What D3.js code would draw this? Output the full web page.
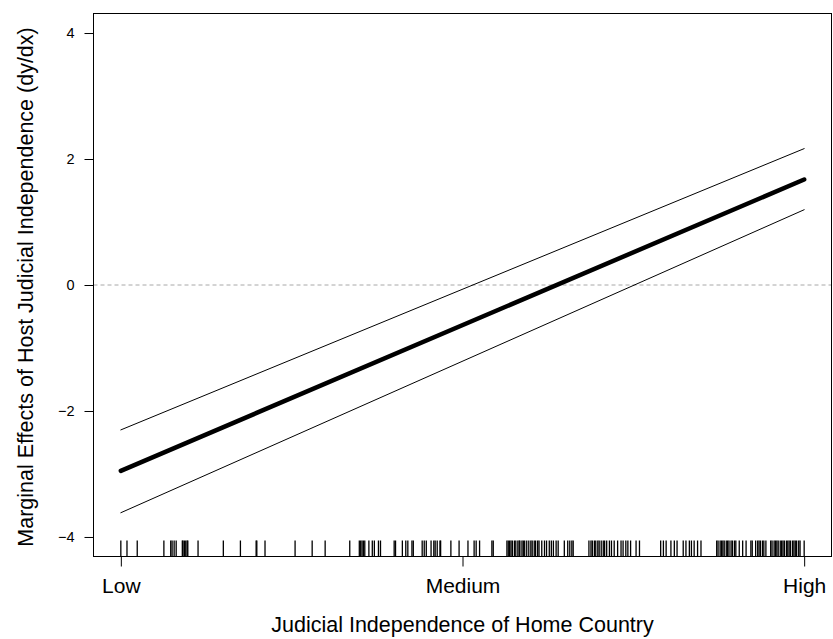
<!DOCTYPE html>
<html>
<head>
<meta charset="utf-8">
<script src="https://cdn.jsdelivr.net/npm/d3@7"></script>
<style>
  body { margin: 0; background: #fff; }
  text { font-family: "Liberation Sans", Arial, sans-serif; fill: #000; }
</style>
</head>
<body>
<div id="plot"></div>
<script>
// Data (x on a 0-100 scale from Low to High home judicial independence)
var xEnds = [0, 100]
var effect = [-2.95, 1.675]
var upper = [-2.30, 2.165]
var lower = [-3.615, 1.195]

var xTicks = [0, 50, 100]
var xTickLabels = ["Low", "Medium", "High"]
var yTicks = [-4, -2, 0, 2, 4]

// observed values of home judicial independence (rug)
var rugValues = [
  0.0, 0.9, 2.4, 6.3, 7.3, 7.5, 7.8, 8.1, 9.0, 9.1, 9.3, 9.5, 9.7, 9.8, 11.3,
  15.0, 17.5, 19.8, 19.9, 21.1,
  25.5, 28.0, 29.9, 33.5, 34.9, 35.1, 35.3, 35.5, 35.7, 36.3, 36.8, 37.1, 37.7,
  38.0, 40.0, 40.2, 41.2, 41.7, 42.0, 42.6, 42.8, 44.1, 44.4, 44.7, 45.4, 45.8,
  46.0, 46.3, 46.7, 46.8, 48.3,
  49.5, 50.8, 51.7, 52.0, 52.5, 54.3, 54.5, 56.5, 56.7, 56.9, 57.1, 57.3, 57.6,
  57.8, 58.1, 58.3, 58.4, 58.7, 58.9, 59.1, 59.4, 59.7, 60.0, 60.2, 60.5, 60.7,
  61.0, 61.2, 61.6, 62.0, 62.3, 62.7, 63.0, 63.3, 63.7, 64.0, 64.9, 65.4, 65.7,
  66.0, 66.2, 68.5, 68.8, 69.0, 69.3, 69.5, 69.8, 70.0, 70.3, 70.6, 70.8, 71.1,
  71.5, 71.8, 72.2, 72.7, 73.2, 73.5, 73.9, 74.2, 74.6, 75.4,
  75.9, 79.0, 79.4, 79.8, 80.5, 81.0, 81.4, 82.3, 82.7, 83.2, 83.5, 83.9, 84.4,
  84.9, 87.2, 87.4, 87.7, 87.9, 88.1, 88.3, 88.6, 88.8, 89.0, 89.3, 89.5, 89.8,
  90.0, 90.5, 91.0, 91.5, 92.2, 92.4, 92.9, 93.2, 93.4, 93.6, 93.9, 94.1, 94.4,
  95.1, 95.3, 95.6, 95.8, 96.0, 96.2, 96.5, 96.7, 96.9, 97.1, 97.4, 97.6, 97.8,
  98.0, 98.3, 98.5, 98.7, 98.9, 99.2, 99.4, 100.0
]

var svgWidth = 833
var svgHeight = 639

// plot box
var margin = { top: 13.5, right: 1.5, bottom: 82.5, left: 93.5 }
var width = svgWidth - margin.left - margin.right
var height = svgHeight - margin.top - margin.bottom

var svg = d3.select("#plot")
  .append("svg")
  .attr("width", svgWidth)
  .attr("height", svgHeight)

var chartGroup = svg.append("g")
  .attr("transform", `translate(${margin.left}, ${margin.top})`)

// scales, R style 4% padding
var xScale = d3.scaleLinear()
  .domain([-4, 104])
  .range([0, width])

var yScale = d3.scaleLinear()
  .domain([-4.31, 4.31])
  .range([height, 0])

// zero reference line
chartGroup.append("line")
  .attr("x1", 0)
  .attr("x2", width)
  .attr("y1", yScale(0))
  .attr("y2", yScale(0))
  .attr("stroke", "#a8a8a8")
  .attr("stroke-width", 1)
  .attr("stroke-dasharray", "4,3")

// confidence bounds and marginal effect
var line = d3.line()
  .x(d => xScale(d[0]))
  .y(d => yScale(d[1]))

var series = [
  { vals: upper, w: 1 },
  { vals: lower, w: 1 },
  { vals: effect, w: 4.5 }
]

chartGroup.selectAll(".effect")
  .data(series)
  .enter()
  .append("path")
  .attr("class", "effect")
  .attr("d", s => line(d3.zip(xEnds, s.vals)))
  .attr("fill", "none")
  .attr("stroke", "#000")
  .attr("stroke-width", s => s.w)
  .attr("stroke-linecap", "round")

// rug
chartGroup.selectAll(".rug")
  .data(rugValues)
  .enter()
  .append("line")
  .attr("class", "rug")
  .attr("x1", d => xScale(d))
  .attr("x2", d => xScale(d))
  .attr("y1", height)
  .attr("y2", height - 16)
  .attr("stroke", "#000")
  .attr("stroke-width", 1.3)

// axes
var bottomAxis = d3.axisBottom(xScale)
  .tickValues(xTicks)
  .tickFormat((d, i) => xTickLabels[i])
  .tickSize(10)
  .tickPadding(11.5)

var leftAxis = d3.axisLeft(yScale)
  .tickValues(yTicks)
  .tickFormat(d => d < 0 ? "\u2212" + Math.abs(d) : d)
  .tickSize(9)
  .tickPadding(10)

var xAxisG = chartGroup.append("g")
  .attr("transform", `translate(0, ${height})`)
  .call(bottomAxis)
xAxisG.select(".domain").remove()
xAxisG.selectAll("text")
  .style("font-size", "21px")
  .attr("fill", "#000")
xAxisG.selectAll("line").attr("stroke", "#000")

var yAxisG = chartGroup.append("g")
  .call(leftAxis)
yAxisG.select(".domain").remove()
yAxisG.selectAll("text")
  .style("font-size", "14.5px")
  .attr("fill", "#000")
yAxisG.selectAll("line").attr("stroke", "#000")

// box
chartGroup.append("rect")
  .attr("x", 0)
  .attr("y", 0)
  .attr("width", width)
  .attr("height", height)
  .attr("fill", "none")
  .attr("stroke", "#000")
  .attr("stroke-width", 1)

// axis titles
svg.append("text")
  .attr("x", margin.left + width / 2)
  .attr("y", 632)
  .style("font-size", "21.5px")
  .style("text-anchor", "middle")
  .text("Judicial Independence of Home Country")

svg.append("text")
  .attr("transform", `translate(33, ${margin.top + height / 2 + 2}) rotate(-90)`)
  .style("font-size", "21.5px")
  .style("text-anchor", "middle")
  .text("Marginal Effects of Host Judicial Independence (dy/dx)")
</script>
</body>
</html>
